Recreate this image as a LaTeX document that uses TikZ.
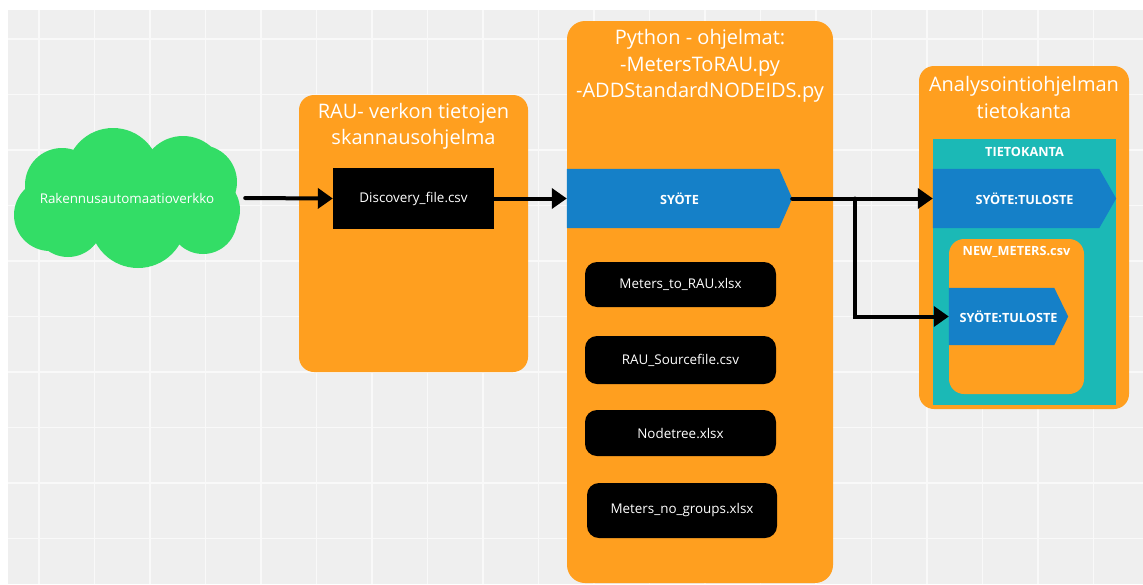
\documentclass[tikz,border=0pt]{standalone}
\usepackage{fontspec}
\setmainfont{Open Sans}
\usetikzlibrary{calc,arrows.meta}
\definecolor{bggray}{HTML}{EFEFEF}
\definecolor{gridline}{HTML}{F9F9F9}
\definecolor{panelc}{HTML}{FF9F1F}
\definecolor{flowc}{HTML}{1580C8}
\definecolor{dbc}{HTML}{1BB9B6}
\definecolor{netc}{HTML}{33DD66}
\tikzset{
  panel/.style={fill=panelc, rounded corners=15pt, inner sep=0pt},
  paneltitle/.style={text=white, align=center, font=\fontsize{20}{26.5}\selectfont},
  filebox/.style={fill=black, text=white, rounded corners=12pt, inner sep=0pt,
    minimum width=191pt, font=\fontsize{13.4}{15}\selectfont},
  flowbody/.style={inner sep=0pt},
  label/.style={text=white, font=\fontsize{12.7}{15}\selectfont\bfseries},
  flowarrow/.style={line width=4pt, line cap=round,
    -{Triangle[length=15pt,width=20pt]}},
}
% pentagon "signal" shape filled over the extent of a named node
\newcommand\flowshape[2]{%
  \fill[flowc] (#1.north west) -- ($(#1.north east)+(-#2,0)$) -- (#1.east)
    -- ($(#1.south east)+(-#2,0)$) -- (#1.south west) -- cycle;}
\begin{document}
\begin{tikzpicture}[x=1pt,y=-1pt]
\useasboundingbox (0,0) rectangle (1143,584);
% canvas and grid
\fill[white] (0,0) rectangle (1143,584);
\fill[bggray] (8,10) rectangle (1143,584);
\foreach \i in {0,...,19} {
  \draw[gridline, line width=1.2pt] ({39+55.5*\i},10) -- ({39+55.5*\i},584);
}
\foreach \j in {0,...,9} {
  \draw[gridline, line width=1.2pt] (8,{39+55.5*\j}) -- (1143,{39+55.5*\j});
}

% building automation network (cloud built from overlapping puffs)
\fill[netc] (126,200) ellipse [x radius=90, y radius=45];
\foreach \cx/\cy/\r in {113/175/47, 183/178/42, 62/185/37, 200/182/37,
                        205/210/35, 50/215/36, 68/222/35, 138/220/48, 203/220/34} {
  \fill[netc] (\cx,\cy) circle [radius=\r];
}
\node[inner sep=0pt, minimum width=226pt, minimum height=140pt,
  text=white, font=\fontsize{13.4}{15}\selectfont] (net) at (127,198) {Rakennusautomaatioverkko};

% scanner panel
\node[panel, minimum width=229pt, minimum height=277pt] (scan) at (413.5,233.5) {};
\node[paneltitle] (scantitle) at (413.5,126.5) {RAU- verkon tietojen\\skannausohjelma};
\node[fill=black, text=white, inner sep=0pt, minimum width=161pt, minimum height=61pt,
  font=\fontsize{13.4}{15}\selectfont] (disc) at (413.5,198.5) {Discovery\_file.csv};

% python panel
\node[panel, rounded corners=18pt, minimum width=266pt, minimum height=562pt] (py) at (700,302) {};
\node[paneltitle] (pytitle) at (700,66) {Python - ohjelmat:\\-MetersToRAU.py\\-ADDStandardNODEIDS.py};
\node[flowbody, minimum width=225pt, minimum height=59pt] (syote) at (679.5,198.5) {};
\flowshape{syote}{13}
\node[label] (syotetext) at (syote.center) {SYÖTE};
\node[filebox, minimum height=45pt] (f1) at (680.5,284.5) {Meters\_to\_RAU.xlsx};
\node[filebox, minimum height=48pt] (f2) at (680.5,360) {RAU\_Sourcefile.csv};
\node[filebox, minimum height=46pt] (f3) at (680.5,433) {Nodetree.xlsx};
\node[filebox, minimum height=55pt, minimum width=190pt] (f4) at (682,510.5) {Meters\_no\_groups.xlsx};

% analysis database panel
\node[panel, minimum width=210pt, minimum height=343pt] (an) at (1024,237.5) {};
\node[paneltitle] (antitle) at (1024,97.5) {Analysointiohjelman\\tietokanta};
\node[fill=dbc, inner sep=0pt, minimum width=183pt, minimum height=266pt] (dbase) at (1024.5,272) {};
\node[label] (dbtitle) at (1024.5,152) {TIETOKANTA};
\node[flowbody, minimum width=183pt, minimum height=59pt] (out1) at (1024.5,198.5) {};
\flowshape{out1}{17}
\node[label] (out1text) at (out1.center) {SYÖTE:TULOSTE};
\node[panel, minimum width=135pt, minimum height=155pt] (newm) at (1016.5,316.5) {};
\node[label] (newmtitle) at (1016.5,252) {NEW\_METERS.csv};
\node[flowbody, minimum width=119pt, minimum height=57pt] (out2) at (1008.5,316.5) {};
\flowshape{out2}{14}
\node[label] (out2text) at (out2.center) {SYÖTE:TULOSTE};

% connectors
\draw[flowarrow, shorten <=5pt] (net.east) -- (disc.west);
\draw[flowarrow] (disc.east) -- (syote.west);
\coordinate (split) at (855,198.5);
\draw[flowarrow] (syote.east) -- (out1.west);
\draw[flowarrow] (split) |- (out2.west);
\end{tikzpicture}
\end{document}
